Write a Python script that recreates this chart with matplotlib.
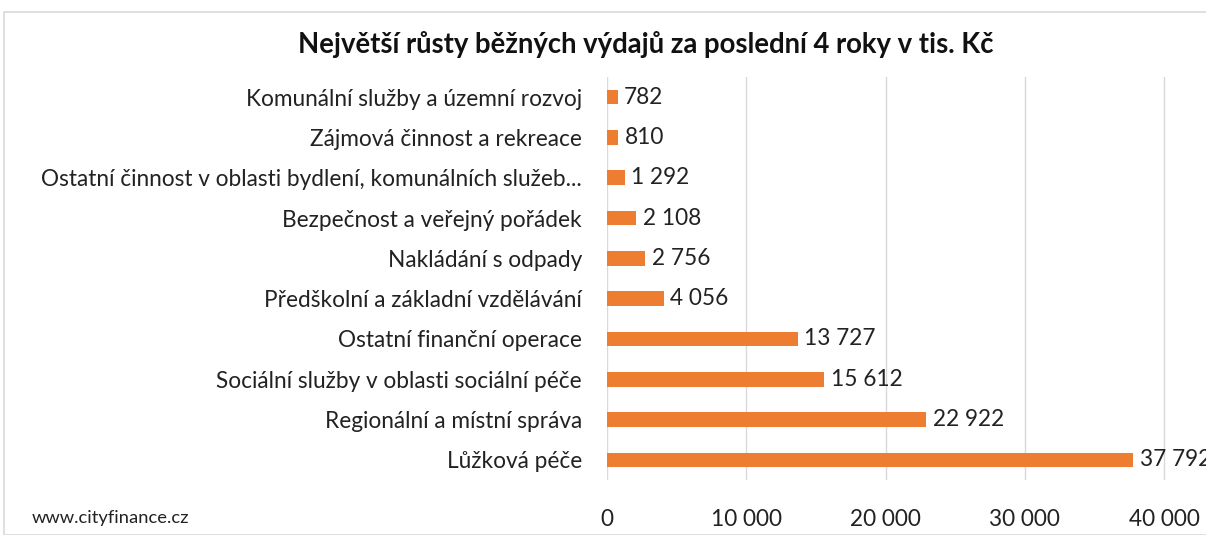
import matplotlib
matplotlib.use("Agg")
import matplotlib.pyplot as plt
from matplotlib.patches import Rectangle

categories = [
    "Komunální služby a územní rozvoj",
    "Zájmová činnost a rekreace",
    "Ostatní činnost v oblasti bydlení, komunálních služeb...",
    "Bezpečnost a veřejný pořádek",
    "Nakládání s odpady",
    "Předškolní a základní vzdělávání",
    "Ostatní finanční operace",
    "Sociální služby v oblasti sociální péče",
    "Regionální a místní správa",
    "Lůžková péče",
]
values = [782, 810, 1292, 2108, 2756, 4056, 13727, 15612, 22922, 37792]
xticks = [0, 10000, 20000, 30000, 40000]
title = "Největší růsty běžných výdajů za poslední 4 roky v tis. Kč"
source = "www.cityfinance.cz"

plt.rcParams["font.family"] = ["Lato", "DejaVu Sans"]

def fmt(v):
    return f"{v:,}".replace(",", " ")

W, H = 1206, 535
fig = plt.figure(figsize=(W / 100, H / 100), dpi=100)
fig.patches.append(Rectangle((4 / W, 0), 1.0, 1 - 12 / H, transform=fig.transFigure,
                             fill=False, edgecolor="#d9d9d9", linewidth=1.2))
ax = fig.add_axes([607 / W, 1 - 480 / H, (W - 607) / W, (480 - 77) / H])
y = list(range(len(categories)))
ax.barh(y, values, height=0.36, color="#ED7D31")
ax.set_ylim(len(categories) - 0.5, -0.5)
ax.set_xlim(0, 43000)
ax.set_yticks(y)
ax.set_yticklabels(categories, fontsize=16.3, color="#222222")
ax.set_xticks(xticks)
ax.set_xticklabels([fmt(t) for t in xticks], fontsize=16.3, color="#222222")
ax.tick_params(axis="both", length=0)
ax.tick_params(axis="y", pad=18)
ax.tick_params(axis="x", pad=21)
for s in ax.spines.values():
    s.set_visible(False)
ax.grid(axis="x", color="#d9d9d9", linewidth=1)
ax.set_axisbelow(True)
for yi, v in zip(y, values):
    ax.text(v + 450, yi, fmt(v), va="center", ha="left", fontsize=16.3, color="#222222")
fig.text(646 / W, 1 - 44 / H, title, ha="center", va="center", fontsize=19.8, fontweight="bold", color="#111111")
fig.text(32 / W, 1 - 518 / H, source, ha="left", va="center", fontsize=13.2, color="#222222")
fig.savefig("out.png", dpi=100)
